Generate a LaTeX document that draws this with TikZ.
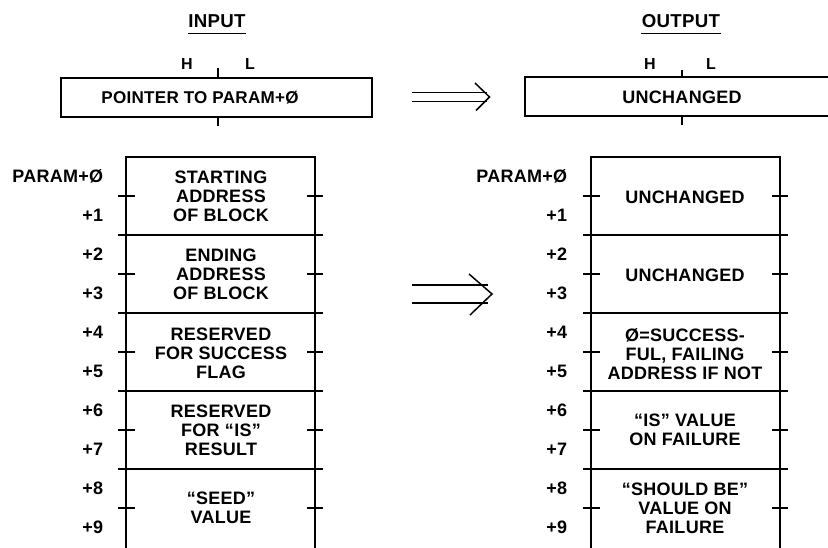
\documentclass[tikz,border=0pt]{standalone}
\usepackage{fontspec}
\setmainfont{Liberation Sans}
\newfontfamily\lab{Liberation Sans}[LetterSpace=1.5]
\begin{document}
\begin{tikzpicture}[x=0.75pt,y=-0.75pt,line width=1.1pt,
  txt/.style={font=\lab\bfseries\fontsize{13.5}{14.25}\selectfont,align=center,inner sep=0pt},
  title/.style={font=\lab\bfseries\fontsize{14}{16}\selectfont,inner sep=0pt},
  hl/.style={font=\lab\bfseries\fontsize{12}{14}\selectfont,inner sep=0pt},
  small/.style={font=\lab\bfseries\fontsize{12.8}{14}\selectfont,inner sep=0pt},
  addr/.style={font=\lab\bfseries\fontsize{13.5}{14.25}\selectfont,inner sep=0pt,anchor=east},
  tick/.style={line width=1.1pt}]
\useasboundingbox (0,0) rectangle (828,547);

% titles
\node[title] (tin) at (217,21) {INPUT};
\node[title] (tout) at (681,21) {OUTPUT};
\draw[line width=0.6pt] ([yshift=-3.5pt]tin.south west) -- ([yshift=-3.5pt]tin.south east);
\draw[line width=0.6pt] ([yshift=-3.5pt]tout.south west) -- ([yshift=-3.5pt]tout.south east);

% H / L labels
\node[hl] (hin) at (187,64) {H};
\node[hl] (lin) at (250,64) {L};
\node[hl] (hout) at (650,64) {H};
\node[hl] (lout) at (711,64) {L};

% top input box
\node[draw,minimum width=233.25pt,minimum height=29.25pt,inner sep=0pt] (ptr) at (216.5,97.5) {};
\node[small] (ptrtxt) at (200,97.5) {POINTER TO PARAM+Ø};
\draw[tick] (218,68) -- (218,78);
\draw[tick] (218,117) -- (218,126);

% top output box (runs off the right edge)
\coordinate (o1) at (840,77);
\coordinate (o2) at (525,77);
\coordinate (o3) at (525,116);
\coordinate (o4) at (840,116);
\draw (o1) -- (o2) -- (o3) -- (o4);
\node[txt] (unch0) at (682,97) {UNCHANGED};
\draw[tick] (682,70) -- (682,77);
\draw[tick] (682,116) -- (682,125);

% double arrows
\coordinate (a1s) at (412,92.5); \coordinate (a1e) at (487,92.5);
\coordinate (a2s) at (412,101.5); \coordinate (a2e) at (487,101.5);
\draw (a1s) -- (a1e);
\draw (a2s) -- (a2e);
\draw (475,83) -- (489.5,97) -- (476,110.5);
\coordinate (b1s) at (412,285); \coordinate (b1e) at (488,285);
\coordinate (b2s) at (412,303); \coordinate (b2e) at (488,303);
\draw (b1s) -- (b1e);
\draw (b2s) -- (b2e);
\draw (469,274) -- (492,294) -- (470,315);

% memory blocks
\foreach \xl/\xr in {126/315, 591/780}{
  \draw (\xl,547.5) -- (\xl,157) -- (\xr,157) -- (\xr,547.5);
  \foreach \yy in {235,313,391,469}{
    \draw (\xl-8,\yy) -- (\xr+8,\yy);
  }
  \foreach \yy in {196,274,352,430,508}{
    \draw (\xl-8,\yy) -- (\xl+9,\yy);
    \draw (\xr-8,\yy) -- (\xr+8,\yy);
  }
}

% address labels
\foreach \xa in {104,568}{
  \node[addr] at (\xa,176.5) {PARAM+Ø};
  \foreach \k/\t in {1/+1,2/+2,3/+3,4/+4,5/+5,6/+6,7/+7,8/+8,9/+9}{
    \node[addr] at (\xa,176.5+39*\k) {\t};
  }
}

% input block texts
\node[txt] (l1) at (221,196) {STARTING\\ADDRESS\\OF BLOCK};
\node[txt] (l2) at (221,274) {ENDING\\ADDRESS\\OF BLOCK};
\node[txt] (l3) at (221,353) {RESERVED\\FOR SUCCESS\\FLAG};
\node[txt] (l4) at (221,430) {RESERVED\\FOR “IS”\\RESULT};
\node[txt] (l5) at (221,508) {“SEED”\\VALUE};

% output block texts
\node[txt] (r1) at (685,197) {UNCHANGED};
\node[txt] (r2) at (685,275) {UNCHANGED};
\node[txt] (r3) at (685,354) {Ø=SUCCESS-\\FUL, FAILING\\ADDRESS IF NOT};
\node[txt] (r4) at (685,430) {“IS” VALUE\\ON FAILURE};
\node[txt] (r5) at (685,508) {“SHOULD BE”\\VALUE ON\\FAILURE};
\end{tikzpicture}
\end{document}
